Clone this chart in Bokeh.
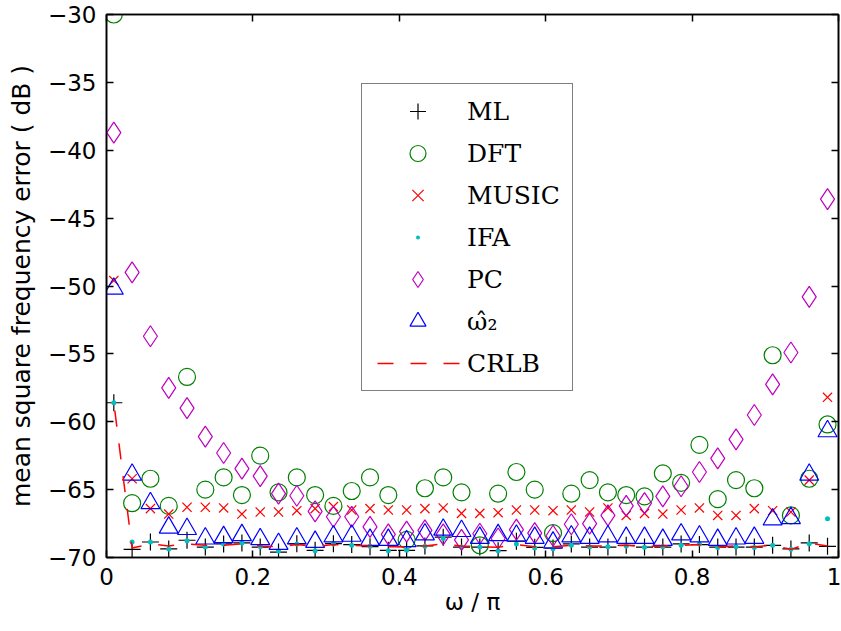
from bokeh.plotting import figure
from bokeh.models import Range1d, LinearAxis, Legend, LegendItem, FixedTicker
from bokeh.embed import file_html
from bokeh.resources import INLINE

omega = [0.010, 0.035, 0.060, 0.085, 0.110, 0.135, 0.160, 0.185, 0.210, 0.235,
         0.260, 0.285, 0.310, 0.335, 0.360, 0.385, 0.410, 0.435, 0.460, 0.485,
         0.510, 0.535, 0.560, 0.585, 0.610, 0.635, 0.660, 0.685, 0.710, 0.735,
         0.760, 0.785, 0.810, 0.835, 0.860, 0.885, 0.910, 0.935, 0.960, 0.985]

ml = [-58.6, -69.4, -68.86, -69.37, -68.73, -69.23, -69.0, -68.93, -69.23, -69.6,
      -68.98, -69.47, -68.98, -69.05, -69.2, -69.47, -69.47, -69.15, -68.5, -69.23,
      -69.23, -69.5, -68.8, -69.25, -69.3, -69.0, -69.23, -69.23, -69.1, -69.23,
      -69.23, -69.0, -69.05, -69.23, -69.23, -69.23, -69.1, -69.37, -68.93, -69.18]

dft = [-30.0, -66.0, -64.2, -66.2, -56.7, -65.0, -64.1, -65.4, -62.5, -65.2,
       -64.1, -65.4, -66.2, -65.1, -64.1, -65.4, -68.7, -64.9, -64.1, -65.2,
       -69.1, -65.3, -63.7, -65.0, -68.2, -65.3, -64.3, -65.2, -65.4, -65.5,
       -63.8, -64.5, -61.7, -65.7, -64.3, -64.9, -55.1, -66.9, -64.2, -60.2]

music = [-49.6, -64.2, -66.4, -66.8, -66.3, -66.3, -66.35, -66.8, -66.65, -66.65,
         -66.55, -66.4, -66.25, -66.5, -66.4, -66.5, -66.5, -66.4, -66.35, -66.75,
         -66.75, -66.7, -66.5, -66.5, -66.55, -66.5, -66.65, -66.35, -66.9, -66.75,
         -66.8, -66.5, -66.35, -66.9, -66.9, -66.4, -66.55, -66.65, -64.3, -58.2]

ifa = [-58.6, -68.86, -68.86, -69.37, -68.76, -69.23, -69.0, -68.93, -69.2, -69.52,
       -69.0, -69.5, -69.0, -69.1, -69.18, -69.5, -69.47, -69.18, -68.6, -69.23,
       -69.23, -69.5, -69.0, -69.3, -69.35, -69.1, -69.23, -69.2, -69.15, -69.25,
       -69.2, -69.1, -69.0, -69.27, -69.2, -69.27, -69.1, -69.4, -68.98, -67.14]

pc = [-38.7, -49.0, -53.7, -57.5, -59.0, -61.1, -62.3, -63.45, -64.0, -65.3,
      -65.45, -66.6, -67.0, -67.0, -67.75, -68.3, -68.1, -68.0, -68.3, -68.7,
      -68.25, -68.6, -67.95, -68.2, -68.4, -67.55, -67.5, -66.9, -66.2, -66.0,
      -65.5, -64.75, -63.7, -62.7, -61.3, -59.5, -57.25, -54.9, -50.8, -43.6]

omega2 = [-50.2, -63.9, -66.0, -67.8, -67.9, -68.6, -68.5, -68.35, -68.65, -69.0,
          -68.6, -68.85, -68.45, -68.4, -68.7, -68.7, -68.8, -68.3, -67.95, -68.05,
          -68.55, -68.35, -68.4, -68.55, -68.9, -68.45, -68.55, -68.45, -68.55, -68.55,
          -68.7, -68.3, -68.45, -68.7, -68.6, -68.55, -67.2, -67.1, -63.9, -60.7]

crlb = [-58.6, -69.3, -69.0, -69.15, -69.0, -69.1, -69.1, -69.0, -69.15, -69.2,
        -69.05, -69.2, -69.05, -69.1, -69.15, -69.2, -69.2, -69.15, -69.0, -69.15,
        -69.2, -69.25, -69.05, -69.2, -69.2, -69.1, -69.15, -69.15, -69.1, -69.2,
        -69.15, -69.1, -69.05, -69.2, -69.15, -69.2, -69.1, -69.4, -68.95, -69.15]

x_ticks = [0, 0.2, 0.4, 0.6, 0.8, 1]
y_ticks = [-70, -65, -60, -55, -50, -45, -40, -35, -30]
x_tick_labels = {0: "0", 0.2: "0.2", 0.4: "0.4", 0.6: "0.6", 0.8: "0.8", 1: "1"}
y_tick_labels = {v: "\u2212" + str(abs(v)) for v in y_ticks}

SANS = "DejaVu Sans"
SERIF = "DejaVu Serif"

p = figure(width=841, height=631,
           x_range=Range1d(0, 1), y_range=Range1d(-70, -30),
           output_backend="svg", toolbar_location=None,
           min_border_left=106, min_border_right=3, min_border_top=14, min_border_bottom=74)
p.background_fill_color = "white"
p.border_fill_color = "white"
p.outline_line_color = "black"
p.outline_line_width = 1.5
p.xgrid.visible = False
p.ygrid.visible = False

def style_axis(ax, ticks, labels=None):
    ax.ticker = FixedTicker(ticks=ticks)
    ax.minor_tick_line_color = None
    ax.major_tick_in = 7
    ax.major_tick_out = 0
    ax.major_tick_line_width = 1.5
    ax.axis_line_width = 1.6
    ax.major_tick_line_color = "black"
    ax.axis_line_color = "black"
    if labels is None:
        ax.major_label_text_color = None
        ax.major_label_text_font_size = "0px"
        ax.major_label_standoff = 0
    else:
        ax.major_label_overrides = labels
        ax.major_label_text_font = SANS
        ax.major_label_text_font_size = "23px"
        ax.major_label_text_color = "black"

style_axis(p.xaxis[0], x_ticks, x_tick_labels)
style_axis(p.yaxis[0], y_ticks, y_tick_labels)
p.xaxis[0].major_label_standoff = 10
p.yaxis[0].major_label_standoff = 10
p.xaxis[0].axis_label = "\u03c9 / \u03c0"
p.yaxis[0].axis_label = "mean square frequency error ( dB )"
for ax in (p.xaxis[0], p.yaxis[0]):
    ax.axis_label_text_font = SANS
    ax.axis_label_text_font_style = "normal"
    ax.axis_label_text_color = "black"
p.xaxis[0].axis_label_text_font_size = "23px"
p.yaxis[0].axis_label_text_font_size = "25px"
p.xaxis[0].axis_label_standoff = 1
p.yaxis[0].axis_label_standoff = 9

ax_top = LinearAxis()
style_axis(ax_top, x_ticks)
p.add_layout(ax_top, "above")
ax_right = LinearAxis()
style_axis(ax_right, y_ticks)
p.add_layout(ax_right, "right")

r_ml = p.scatter(omega, ml, marker="cross", size=17, line_color="black", line_width=1.2)
r_dft = p.scatter(omega, dft, marker="circle", size=17, fill_color=None,
                  line_color="#008000", line_width=1.2)
r_music = p.scatter(omega, music, marker="x", size=13, line_color="#ff0000", line_width=1.2)
r_ifa = p.scatter(omega, ifa, marker="dot", size=20, fill_color="#00bfbf",
                  line_color="#00bfbf", line_width=1)
r_pc = p.scatter(omega, pc, marker="diamond", size=21, fill_color=None,
                 line_color="#bf00bf", line_width=1.2)
r_w2 = p.scatter(omega, omega2, marker="triangle", size=19, fill_color=None,
                 line_color="#0000ff", line_width=1.2)
r_crlb = p.line(omega, crlb, line_color="#ff0000", line_width=1.5,
                line_dash="16 17", line_dash_offset=25)

legend = Legend(items=[
    LegendItem(label="ML", renderers=[r_ml]),
    LegendItem(label="DFT", renderers=[r_dft]),
    LegendItem(label="MUSIC", renderers=[r_music]),
    LegendItem(label="IFA", renderers=[r_ifa]),
    LegendItem(label="PC", renderers=[r_pc]),
    LegendItem(label="\u03c9\u0302\u2082", renderers=[r_w2]),
    LegendItem(label="CRLB", renderers=[r_crlb]),
], location=(255, 166))
legend.padding = 7
legend.margin = 0
legend.spacing = 2
legend.glyph_height = 40
legend.glyph_width = 97
legend.label_height = 40
legend.label_width = 98
legend.label_standoff = 1
legend.label_text_font = SERIF
legend.label_text_font_size = "25px"
legend.label_text_color = "black"
legend.border_line_color = "black"
legend.border_line_width = 1.2
legend.background_fill_color = "white"
legend.background_fill_alpha = 1.0
p.add_layout(legend, "center")

open("out.html", "w").write(file_html(p, INLINE))
